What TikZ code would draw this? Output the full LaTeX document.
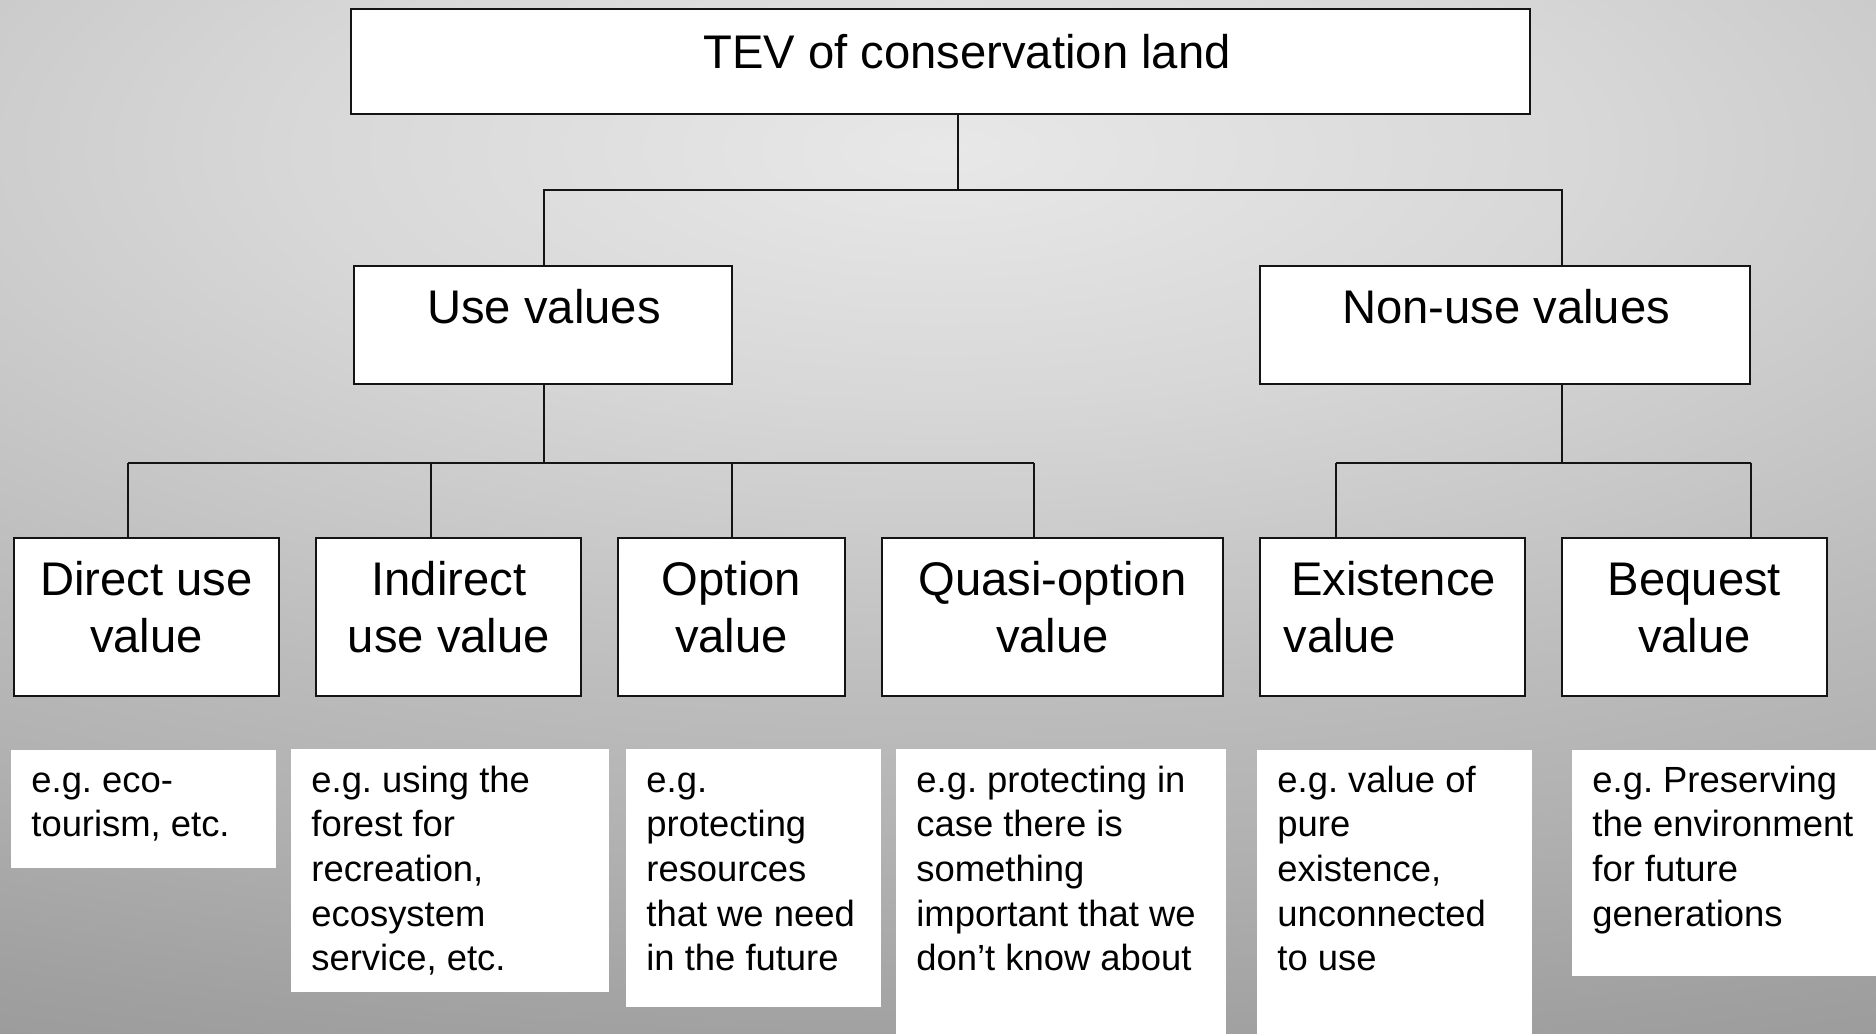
\documentclass[tikz,border=0pt]{standalone}
\usepackage{fontspec}
\setmainfont{Liberation Sans}
\frenchspacing

% background greys, from the bright spot outwards
\definecolor{bg0}{gray}{0.91}
\definecolor{bg1}{gray}{0.845}
\definecolor{bg2}{gray}{0.737}
\definecolor{bg3}{gray}{0.69}
\definecolor{bg4}{gray}{0.627}
\definecolor{bg5}{gray}{0.60}
\definecolor{ink}{gray}{0.08}

\pgfdeclareradialshading{bgglow}{\pgfpointorigin}{%
  color(0bp)=(bg0); color(6.25bp)=(bg1); color(14bp)=(bg2);
  color(18bp)=(bg3); color(22.5bp)=(bg4); color(25bp)=(bg5); color(50bp)=(bg5)}

\begin{document}
\begin{tikzpicture}[x=0.5pt,y=-0.5pt,
  box/.style={draw=ink, line width=1pt, fill=white, inner sep=0pt, outer sep=0pt, anchor=north west},
  note/.style={fill=white, inner sep=0pt, outer sep=0pt, anchor=north west},
  size/.style 2 args={minimum width={#1*0.5pt}, minimum height={#2*0.5pt}},
  conn/.style={draw=ink, line width=0.8pt},
  big/.style={font=\fontsize{23.6pt}{28.5pt}\selectfont, inner sep=0pt, anchor=base},
  bigleft/.style={big, anchor=base west},
  small/.style={font=\fontsize{18.2pt}{22.35pt}\selectfont, inner sep=0pt, anchor=base west},
]
% page and background
\useasboundingbox (0,0) rectangle (1876,1034);
\begin{scope}
  \clip (0,0) rectangle (1876,1034);
  \fill[bg5] (0,0) rectangle (1876,1034);
  \shade[shading=bgglow] (940,150) ellipse [x radius=1300pt, y radius=500pt];
\end{scope}

% ---- boxes ----
\node[box, size={1179}{105}] (T) at (351,9) {};
\node[box, size={378}{118}] (U) at (354,266) {};
\node[box, size={490}{118}] (N) at (1260,266) {};

\node[box, size={265}{158}] (D) at (14,538) {};
\node[box, size={265}{158}] (I) at (316,538) {};
\node[box, size={227}{158}] (O) at (618,538) {};
\node[box, size={341}{158}] (Q) at (882,538) {};
\node[box, size={265}{158}] (E) at (1260,538) {};
\node[box, size={265}{158}] (B) at (1562,538) {};

% ---- box labels ----
\node[big] (tT) at (967,68) {TEV of conservation land};
\node[big] (tU) at (544,323) {Use values};
\node[big] (tN) at (1506,323) {Non-use values};

\node[big] (tD) at (146.5,595) {\parbox[t]{200pt}{\centering Direct use\\value}};
\node[big] (tI) at (449,595) {\parbox[t]{200pt}{\centering Indirect\\use value}};
\node[big] (tO) at (731.5,595) {\parbox[t]{200pt}{\centering Option\\value}};
\node[big] (tQ) at (1052.5,595) {\parbox[t]{200pt}{\centering Quasi-option\\value}};
\node[bigleft] (tE) at (1283,595) {\parbox[t]{200pt}{\raggedright\hspace{4pt}Existence\\value}};
\node[big] (tB) at (1694.5,595) {\parbox[t]{200pt}{\centering Bequest\\value}};

% ---- junction points of the tree ----
\coordinate (tj) at (958,190);
\coordinate (nj) at (1562,463);
\coordinate (uj) at (544,463);
\coordinate (dD) at (128,463);
\coordinate (dI) at (431,463);
\coordinate (dO) at (732,463);
\coordinate (dQ) at (1034,463);
\coordinate (dE) at (1336,463);
\coordinate (dB) at (1751,463);

% ---- connectors ----
\draw[conn] (tj |- T.south) -- (tj);
\draw[conn] (uj |- U.north) |- (tj) -| (nj |- N.north);
\draw[conn] (uj |- U.south) -- (uj);
\draw[conn] (nj |- N.south) -- (nj);
\draw[conn] (dD) -- (dQ);
\draw[conn] (dE) -- (dB);
\draw[conn] (dD) -- (dD |- D.north);
\draw[conn] (dI) -- (dI |- I.north);
\draw[conn] (dO) -- (dO |- O.north);
\draw[conn] (dQ) -- (dQ |- Q.north);
\draw[conn] (dE) -- (dE |- E.north);
\draw[conn] (dB) -- (dB |- B.north);

% ---- example notes ----
\node[note, size={265}{118}] (w1) at (11,750) {};
\node[note, size={318}{243}] (w2) at (291,749) {};
\node[note, size={255}{258}] (w3) at (626,749) {};
\node[note, size={330}{290}] (w4) at (896,749) {};
\node[note, size={275}{290}] (w5) at (1257,750) {};
\node[note, size={310}{226}] (w6) at (1572,750) {};

\node[small] (n1) at (31,792) {\parbox[t]{160pt}{\raggedright e.g. eco-\\tourism, etc.}};
\node[small] (n2) at (311,792) {\parbox[t]{160pt}{\raggedright e.g. using the\\forest for\\recreation,\\ecosystem\\service, etc.}};
\node[small] (n3) at (646,792) {\parbox[t]{160pt}{\raggedright e.g.\\protecting\\resources\\that we need\\in the future}};
\node[small] (n4) at (916,792) {\parbox[t]{160pt}{\raggedright e.g. protecting in\\case there is\\something\\important that we\\don’t know about}};
\node[small] (n5) at (1277,792) {\parbox[t]{160pt}{\raggedright e.g. value of\\pure\\existence,\\unconnected\\to use}};
\node[small] (n6) at (1592,792) {\parbox[t]{160pt}{\raggedright e.g. Preserving\\the environment\\for future\\generations}};
\end{tikzpicture}
\end{document}
